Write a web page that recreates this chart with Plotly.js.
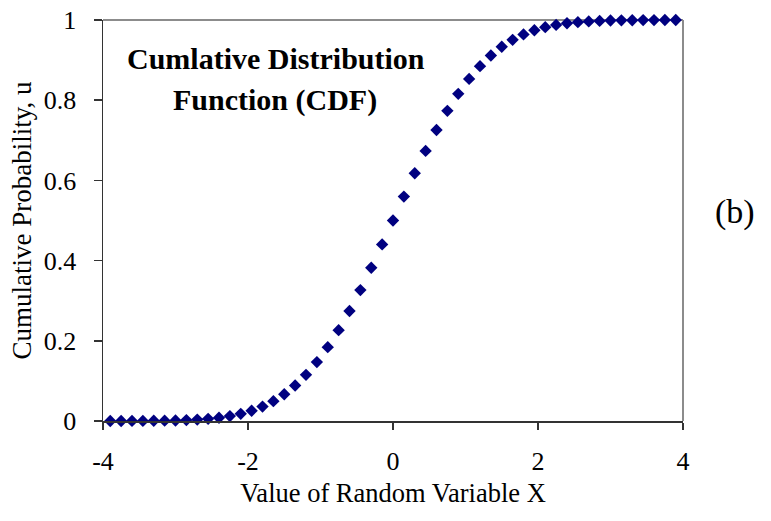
<!DOCTYPE html>
<html>
<head>
<meta charset="utf-8">
<script src="https://cdn.plot.ly/plotly-3.0.1.min.js"></script>
<style>html,body{margin:0;padding:0;background:#fff;}#chart{width:771px;height:521px;}</style>
</head>
<body>
<div id="chart"></div>
<script>
const xValues = [-3.9,-3.75,-3.6,-3.45,-3.3,-3.15,-3.0,-2.85,-2.7,-2.55,-2.4,-2.25,-2.1,-1.95,-1.8,-1.65,-1.5,-1.35,-1.2,-1.05,-0.9,-0.75,-0.6,-0.45,-0.3,-0.15,0,0.15,0.3,0.45,0.6,0.75,0.9,1.05,1.2,1.35,1.5,1.65,1.8,1.95,2.1,2.25,2.4,2.55,2.7,2.85,3.0,3.15,3.3,3.45,3.6,3.75,3.9];
const cdfValues = [0.0000,0.0001,0.0002,0.0003,0.0005,0.0008,0.0013,0.0022,0.0035,0.0054,0.0082,0.0122,0.0179,0.0256,0.0359,0.0495,0.0668,0.0885,0.1151,0.1469,0.1841,0.2266,0.2743,0.3264,0.3821,0.4404,0.5000,0.5596,0.6179,0.6736,0.7257,0.7734,0.8159,0.8531,0.8849,0.9115,0.9332,0.9505,0.9641,0.9744,0.9821,0.9878,0.9918,0.9946,0.9965,0.9978,0.9987,0.9992,0.9995,0.9997,0.9998,0.9999,1.0000];
const xTicks = [-4,-2,0,2,4];
const xTickLabels = ["-4","-2","0","2","4"];
const yTicks = [0,0.2,0.4,0.6,0.8,1];
const yTickLabels = ["0","0.2","0.4","0.6","0.8","1"];
const titleLines = ["Cumlative Distribution","Function (CDF)"];
const panelLabel = "(b)";
const xTitle = "Value of Random Variable X";
const yTitle = "Cumulative Probability, u";

const serif = "Liberation Serif, Times New Roman, serif";
const trace = {
  x: xValues, y: cdfValues, type: "scatter", mode: "markers",
  cliponaxis: false,
  marker: {symbol: "diamond", size: 9.5, color: "#000080", line: {width: 0}},
  hoverinfo: "skip"
};
const layout = {
  width: 771, height: 521,
  margin: {l: 103, r: 88, t: 20, b: 100, pad: 0},
  paper_bgcolor: "#fff", plot_bgcolor: "#fff",
  showlegend: false,
  font: {family: serif, color: "#000", size: 24},
  xaxis: {
    range: [-4, 4], tickmode: "array", tickvals: xTicks, ticktext: xTickLabels,
    showgrid: false, zeroline: false, showline: true, linecolor: "#333", linewidth: 1.5,
    ticks: "outside", ticklen: 7, tickcolor: "#333", tickwidth: 1.5,
    ticklabelstandoff: 9,
    tickfont: {family: serif, size: 26, color: "#000"},
    title: {text: xTitle, font: {family: serif, size: 26.5, color: "#000"}, standoff: 8},
    automargin: false, fixedrange: true
  },
  yaxis: {
    range: [0, 1], tickmode: "array", tickvals: yTicks, ticktext: yTickLabels,
    showgrid: false, zeroline: false, showline: true, linecolor: "#333", linewidth: 1.5,
    ticks: "outside", ticklen: 8, tickcolor: "#333", tickwidth: 1.5,
    ticklabelstandoff: 12,
    tickfont: {family: serif, size: 26, color: "#000"},
    title: {text: yTitle, font: {family: serif, size: 27, color: "#000"}, standoff: 4},
    automargin: false, fixedrange: true
  },
  shapes: [
    {type: "line", xref: "paper", yref: "paper", x0: 0, x1: 1, y0: 1, y1: 1, line: {color: "#8c8c8c", width: 2}, layer: "below"},
    {type: "line", xref: "paper", yref: "paper", x0: 1, x1: 1, y0: 0, y1: 1, line: {color: "#8c8c8c", width: 2}, layer: "below"}
  ],
  annotations: [
    {text: "<b>" + titleLines[0] + "</b>", xref: "paper", yref: "paper", x: 0.299, y: 0.905, xanchor: "center", yanchor: "middle", showarrow: false, font: {family: serif, size: 30, color: "#000"}},
    {text: "<b>" + titleLines[1] + "</b>", xref: "paper", yref: "paper", x: 0.297, y: 0.80, xanchor: "center", yanchor: "middle", showarrow: false, font: {family: serif, size: 30, color: "#000"}},
    {text: panelLabel, xref: "paper", yref: "paper", x: 1.09, y: 0.52, xanchor: "center", yanchor: "middle", showarrow: false, font: {family: serif, size: 34, color: "#000"}}
  ]
};
Plotly.newPlot("chart", [trace], layout, {displayModeBar: false, staticPlot: true});
</script>
</body>
</html>
